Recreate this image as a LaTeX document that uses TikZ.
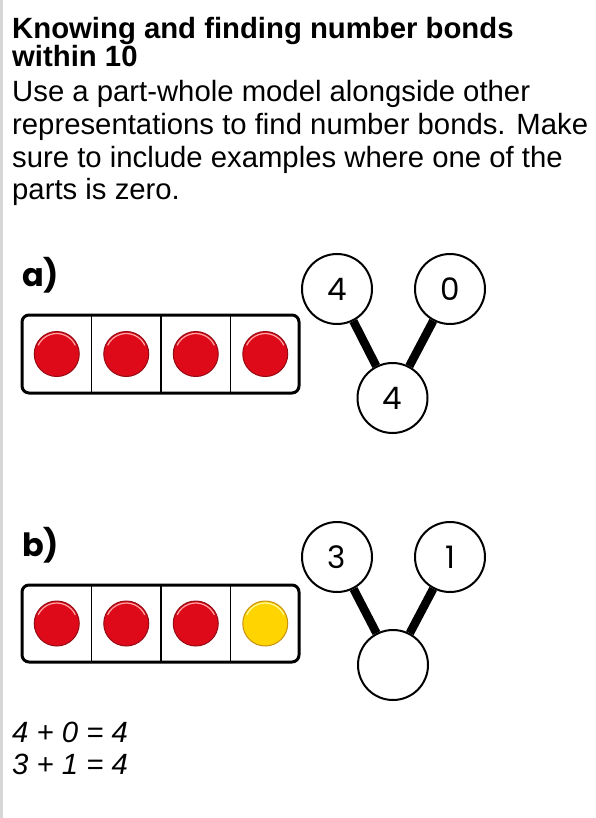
\documentclass[tikz,border=0pt]{standalone}
\usepackage{fontspec}
\setmainfont{Liberation Sans}
\newfontfamily\pop{Poppins}
\definecolor{cred}{RGB}{222,10,25}
\definecolor{credd}{RGB}{150,10,20}
\definecolor{cyel}{RGB}{255,212,0}
\definecolor{cyeld}{RGB}{200,145,20}
\definecolor{edge}{RGB}{215,215,215}
\begin{document}
\begin{tikzpicture}[x=1pt,y=-1pt,
  txt/.style={anchor=base west,inner sep=0pt,font=\fontsize{29.3}{31}\selectfont},
  ttl/.style={txt,font=\bfseries\fontsize{29.3}{31}\selectfont},
  eqn/.style={txt,font=\itshape\fontsize{29.3}{31}\selectfont},
  lbl/.style={anchor=base west,inner sep=0pt,font=\pop\bfseries\fontsize{32}{34}\selectfont},
  pw/.style={circle,draw,line width=2pt,minimum size=70pt,inner sep=0pt,fill=white,font=\pop\fontsize{31}{33}\selectfont},
  bond/.style={line width=8.5pt},
  frame/.style={line width=3pt,rounded corners=7pt},
  divider/.style={line width=1.5pt},
  shine/.style={path picture={\draw[#1,line width=1.2pt] (path picture bounding box.center) ++(155:20.5pt) arc (155:25:20.5pt);}},
  redc/.style={circle,fill=cred,draw=credd,line width=1pt,minimum size=45pt,inner sep=0pt,shine=red!35!white},
  yelc/.style={circle,fill=cyel,draw=cyeld,line width=1pt,minimum size=45pt,inner sep=0pt,shine=yellow!40!white}]
\useasboundingbox (0,0) rectangle (595,818);
\fill[white] (0,0) rectangle (595,818);
\draw[edge,line width=2.5pt] (1.25,0) -- (1.25,818);
% text
\node[ttl] (t1) at (12,39) {Knowing and finding number bonds};
\node[ttl] (t2) at (12,67) {within 10};
\node[txt] (b1) at (12,102) {Use a part-whole model alongside other};
\node[txt] (b2) at (12,135) {representations to find number bonds. Make};
\node[txt] (b3) at (12,168) {sure to include examples where one of the};
\node[txt] (b4) at (12,200) {parts is zero.};
% a)
\node[lbl] (la) at (22,286) {a)};
\draw[frame] (22,315) rectangle (299,393);
\draw[divider] (91.5,315) -- (91.5,393) (161,315) -- (161,393) (230.5,315) -- (230.5,393);
\node[redc] (ra1) at (56.75,354) {};
\node[redc] (ra2) at (126.25,354) {};
\node[redc] (ra3) at (195.75,354) {};
\node[redc] (ra4) at (265.25,354) {};
\node[pw] (pa1) at (337,289) {4};
\node[pw] (pa2) at (450,289) {0};
\node[pw] (pa3) at (392.5,398) {4};
\draw[bond] (pa1) -- (pa3);
\draw[bond] (pa2) -- (pa3);
% b)
\node[lbl] (lb) at (22,556) {b)};
\draw[frame] (22,585) rectangle (299,662);
\draw[divider] (91.5,585) -- (91.5,662) (161,585) -- (161,662) (230.5,585) -- (230.5,662);
\node[redc] (rb1) at (56.75,623.5) {};
\node[redc] (rb2) at (126.25,623.5) {};
\node[redc] (rb3) at (195.75,623.5) {};
\node[yelc] (yb4) at (265.25,623.5) {};
\node[pw] (pb1) at (337,557) {3};
\node[pw] (pb2) at (450,557) {1};
\node[pw] (pb3) at (393,665) {};
\draw[bond] (pb1) -- (pb3);
\draw[bond] (pb2) -- (pb3);
% equations
\node[eqn] (e1) at (12,742) {4 + 0 = 4};
\node[eqn] (e2) at (12,774) {3 + 1 = 4};
\end{tikzpicture}
\end{document}
